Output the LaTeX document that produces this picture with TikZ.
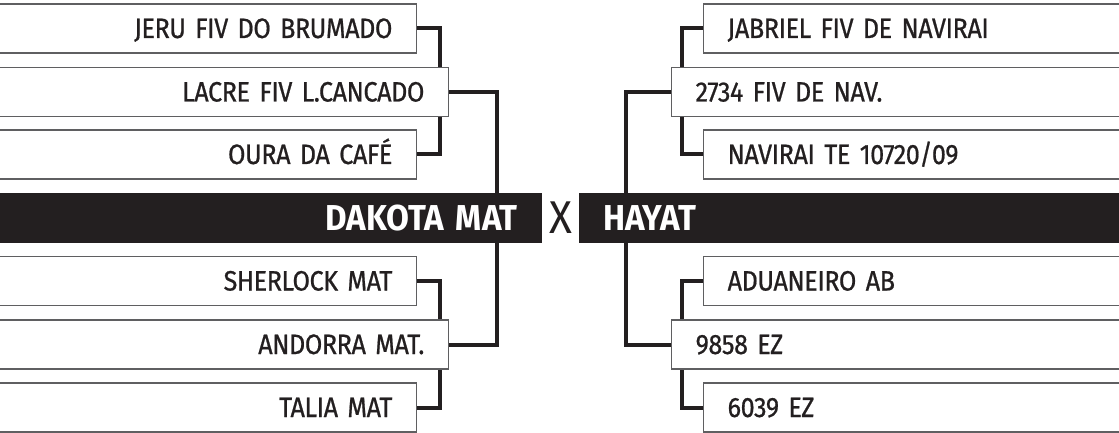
\documentclass[tikz,border=0pt]{standalone}
\usepackage{fontspec}
\setmainfont{Fira Sans}[FakeStretch=0.92]
\newfontfamily\nomefont{Fira Sans}[FakeStretch=0.9,FakeBold=0.7,LetterSpace=-1.5,WordSpace=0.8]
\usetikzlibrary{backgrounds}
\definecolor{tinta}{RGB}{35,31,32}
\definecolor{borda}{RGB}{95,95,97}
\begin{document}
\begin{tikzpicture}[x=1pt,y=-1pt,
	caixa/.style={draw=borda,line width=1.2pt,fill=white,text=tinta,font=\nomefont\fontsize{28}{28}\selectfont,minimum height=49pt,inner xsep=24pt,inner ysep=0pt,text height=19pt,text depth=0pt},
	esq/.style={caixa,anchor=east,align=right},
	dir/.style={caixa,anchor=west,align=left},
	barra/.style={fill=tinta,text=white,font=\fontsize{36}{36}\selectfont\bfseries,minimum height=50pt,inner xsep=24pt,inner ysep=0pt,text height=25pt,text depth=0pt},
	liga/.style={draw=tinta,line width=4pt}]
	\def\xa{417} \def\xb{449} \def\xc{542}
	\def\xd{703} \def\xe{671} \def\xf{579}
	\useasboundingbox (0,0) rectangle (1119,433);
	\clip (0,0) rectangle (1119,433);
	% lado esquerdo
	\node[esq,text width=379pt] (jeru) at (\xa,28.5) {JERU FIV DO BRUMADO};
	\node[esq,text width=411pt] (lacre) at (\xb,92) {LACRE FIV L.CANCADO};
	\node[esq,text width=379pt] (oura) at (\xa,154.5) {OURA DA CAFÉ};
	\node[barra,anchor=east,align=right,text width=504pt] (dakota) at (\xc,218) {DAKOTA MAT};
	\node[esq,text width=379pt] (sherlock) at (\xa,281) {SHERLOCK MAT};
	\node[esq,text width=411pt] (andorra) at (\xb,344.5) {ANDORRA MAT.};
	\node[esq,text width=379pt] (talia) at (\xa,407.5) {TALIA MAT};
	\node[text=tinta,font=\fontsize{46}{46}\selectfont,inner sep=0pt] (versus) at (560.5,218) {X};
	% lado direito
	\node[dir,text width=379pt] (jabriel) at (\xd,28.5) {JABRIEL FIV DE NAVIRAI};
	\node[dir,text width=411pt] (n2734) at (\xe,92) {2734 FIV DE NAV.};
	\node[dir,text width=379pt] (navirai) at (\xd,154.5) {NAVIRAI TE 10720/09};
	\node[barra,anchor=west,align=left,text width=504pt] (hayat) at (\xf,218) {HAYAT};
	\node[dir,text width=379pt] (aduaneiro) at (\xd,281) {ADUANEIRO AB};
	\node[dir,text width=411pt] (n9858) at (\xe,344.5) {9858 EZ};
	\node[dir,text width=379pt] (n6039) at (\xd,407.5) {6039 EZ};
	% chaves
	\begin{scope}[on background layer]
		\draw[liga] (jeru.east) -- ++(23,0) |- (oura.east);
		\draw[liga] (lacre.east) -- ++(48,0) |- (andorra.east);
		\draw[liga] (sherlock.east) -- ++(23,0) |- (talia.east);
		\draw[liga] (jabriel.west) -- ++(-21,0) |- (navirai.west);
		\draw[liga] (n2734.west) -- ++(-45,0) |- (n9858.west);
		\draw[liga] (aduaneiro.west) -- ++(-21,0) |- (n6039.west);
	\end{scope}
\end{tikzpicture}
\end{document}
